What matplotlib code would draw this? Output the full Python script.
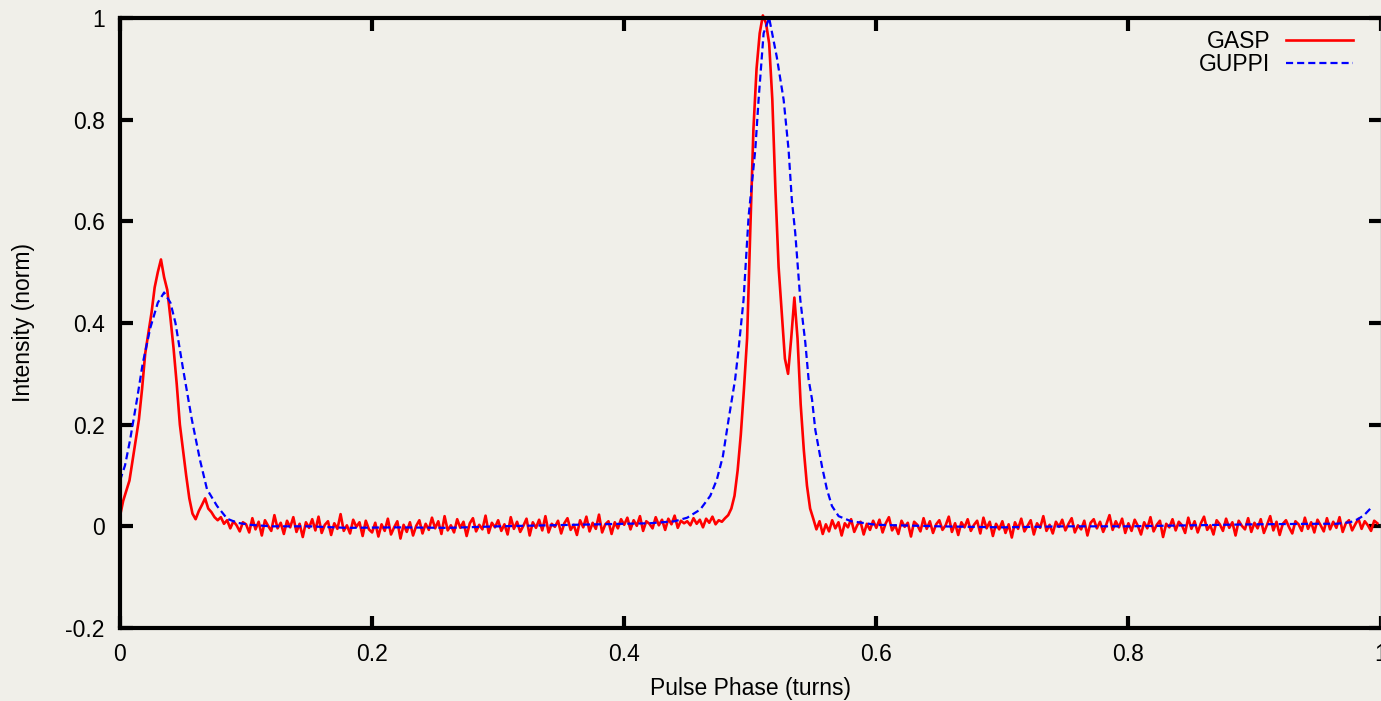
import numpy as np
import matplotlib.pyplot as plt
from matplotlib.ticker import FormatStrFormatter

plt.rcParams['font.family'] = ['Liberation Sans', 'DejaVu Sans']

# GASP profile: 400 phase bins (step 0.0025)
gasp = [
    0.02, 0.05, 0.07, 0.09, 0.13, 0.17, 0.21, 0.27, 0.34, 0.38, 0.42, 0.47, 0.50, 0.525, 0.49, 0.465, 0.41, 0.35, 0.28, 0.20,
    0.15, 0.10, 0.055, 0.025, 0.014, 0.03, 0.042, 0.055, 0.035, 0.028, 0.018, 0.012, 0.018, 0.005, 0.012, -0.004, 0.01, 0.002, -0.01, 0.008,
    0.004, -0.012, 0.016, -0.006, 0.009, -0.018, 0.012, 0.001, -0.009, 0.022, -0.004, 0.007, -0.015, 0.011, -0.002, 0.018, -0.011, 0.005, -0.021, 0.008,
    -0.003, 0.014, -0.008, 0.019, -0.013, 0.003, 0.01, -0.017, 0.006, -0.005, 0.024, -0.009, 0.002, -0.014, 0.013, -0.001, 0.008, -0.019, 0.011, -0.006,
    -0.012, 0.007, -0.02, 0.004, -0.009, 0.015, -0.016, -0.002, 0.01, -0.024, 0.003, -0.011, 0.008, -0.018, 0.001, 0.012, -0.014, 0.005, -0.007, 0.017,
    -0.004, 0.01, -0.015, 0.02, -0.008, 0.002, -0.012, 0.014, -0.003, 0.009, -0.019, 0.006, 0.016, -0.01, 0.003, -0.006, 0.021, -0.013, 0.007, -0.002,
    0.012, -0.009, 0.004, -0.016, 0.018, -0.005, 0.009, -0.011, 0.001, 0.015, -0.018, 0.008, -0.003, 0.013, -0.008, 0.02, -0.012, 0.005, -0.001, 0.011,
    -0.014, 0.006, 0.016, -0.007, 0.003, -0.017, 0.012, -0.002, 0.019, -0.01, 0.007, -0.005, 0.023, -0.012, 0.004, 0.01, -0.015, 0.008, -0.004, 0.014,
    0.003, 0.017, -0.006, 0.012, 0.001, 0.02, -0.009, 0.01, 0.005, -0.004, 0.018, 0.002, 0.013, -0.007, 0.015, 0.004, 0.021, -0.003, 0.011, 0.006,
    0.01, 0.002, 0.016, 0.005, 0.013, -0.002, 0.015, 0.007, 0.019, 0.004, 0.012, 0.009, 0.016, 0.022, 0.035, 0.06, 0.11, 0.18, 0.27, 0.37,
    0.58, 0.78, 0.90, 0.97, 1.005, 0.99, 0.95, 0.84, 0.66, 0.51, 0.42, 0.33, 0.30, 0.37, 0.45, 0.37, 0.24, 0.15, 0.08, 0.035,
    0.015, -0.006, 0.01, -0.015, 0.004, -0.01, 0.012, -0.004, 0.008, -0.018, 0.006, -0.002, 0.014, -0.011, 0.003, 0.009, -0.016, 0.005, -0.007, 0.011,
    -0.003, 0.013, -0.012, 0.006, 0.018, -0.008, 0.002, -0.015, 0.011, -0.001, 0.007, -0.02, 0.009, 0.003, -0.01, 0.016, -0.005, 0.01, -0.013, 0.004,
    0.012, -0.007, 0.002, 0.019, -0.011, 0.006, -0.017, 0.008, -0.002, 0.014, -0.009, 0.003, 0.011, -0.014, 0.017, -0.004, 0.009, -0.019, 0.005, -0.006,
    0.01, -0.013, 0.004, -0.022, 0.008, -0.005, 0.015, -0.01, 0.001, 0.012, -0.016, 0.006, -0.003, 0.02, -0.009, 0.003, -0.014, 0.009, -0.001, 0.013,
    -0.008, 0.005, 0.016, -0.012, 0.002, -0.006, 0.011, -0.018, 0.007, 0.014, -0.004, 0.009, -0.011, 0.004, 0.022, -0.007, 0.01, -0.002, 0.015, -0.013,
    0.006, -0.009, 0.013, 0.001, -0.016, 0.008, -0.004, 0.018, -0.01, 0.003, 0.011, -0.021, 0.005, -0.002, 0.014, -0.008, 0.009, 0.002, -0.013, 0.017,
    -0.005, 0.01, -0.012, 0.006, 0.019, -0.007, 0.002, -0.016, 0.012, 0.004, -0.009, 0.015, -0.003, 0.008, -0.018, 0.011, 0.001, -0.006, 0.016, -0.011,
    0.007, -0.004, 0.014, -0.013, 0.003, 0.02, -0.008, 0.009, -0.017, 0.005, 0.012, -0.002, -0.014, 0.01, 0.004, -0.009, 0.017, -0.005, 0.008, -0.012,
    0.013, 0.002, -0.01, 0.016, -0.006, 0.009, -0.003, 0.018, -0.011, 0.006, 0.012, -0.008, 0.004, 0.015, -0.005, 0.01, 0.002, -0.009, 0.011, 0.006,
]
gasp_phase = np.arange(len(gasp)) * 0.0025

guppi_phase = [0.0, 0.004, 0.008, 0.0135, 0.018, 0.024, 0.03, 0.035, 0.04, 0.044,
               0.05, 0.057, 0.0635, 0.069, 0.077, 0.085, 0.093, 0.103, 0.12, 0.15,
               0.18, 0.22, 0.26, 0.30, 0.34, 0.38, 0.42, 0.44, 0.45, 0.4603,
               0.4683, 0.4735, 0.4783, 0.4828, 0.488, 0.4907, 0.4947, 0.4987, 0.504, 0.5066,
               0.5106, 0.515, 0.521, 0.5265, 0.5304, 0.533, 0.5357, 0.5397, 0.5437, 0.5463,
               0.549, 0.5516, 0.5569, 0.5608, 0.5648, 0.5701, 0.58, 0.60, 0.65, 0.70,
               0.75, 0.80, 0.85, 0.90, 0.95, 0.965, 0.976, 0.982, 0.987, 0.992]
guppi = [0.09, 0.12, 0.17, 0.25, 0.32, 0.39, 0.44, 0.46, 0.44, 0.40,
         0.31, 0.21, 0.13, 0.073, 0.04, 0.015, 0.007, 0.003, 0.0, 0.0,
         -0.003, -0.002, -0.003, 0.0, 0.002, 0.004, 0.006, 0.01, 0.017, 0.033,
         0.06, 0.092, 0.138, 0.21, 0.289, 0.348, 0.446, 0.61, 0.741, 0.839,
         0.97, 1.0, 0.924, 0.839, 0.741, 0.642, 0.577, 0.446, 0.361, 0.289,
         0.25, 0.19, 0.118, 0.073, 0.04, 0.02, 0.01, 0.003, 0.0, -0.002,
         0.0, 0.0, 0.002, 0.004, 0.005, 0.005, 0.008, 0.014, 0.022, 0.035]

bg = '#f0efe9'
fs = 16.5
fig = plt.figure(figsize=(13.81, 7.01), dpi=100, facecolor=bg)
ax = fig.add_axes([120 / 1381, 73 / 701, 1260.5 / 1381, 610 / 701], facecolor=bg)

ax.plot(gasp_phase, gasp, color='#ff0000', lw=1.9, label='GASP', clip_on=False)
ax.plot(guppi_phase, guppi, color='#0000ff', lw=1.6, ls=(0, (3.2, 1.8)), label='GUPPI')

ax.set_xlim(0, 1)
ax.set_ylim(-0.2, 1)
ax.set_xticks([0, 0.2, 0.4, 0.6, 0.8, 1.0])
ax.set_yticks([-0.2, 0, 0.2, 0.4, 0.6, 0.8, 1.0])
ax.xaxis.set_major_formatter(FormatStrFormatter('%g'))
ax.yaxis.set_major_formatter(FormatStrFormatter('%g'))
ax.tick_params(direction='in', length=9, width=3, labelsize=fs, color='black',
               top=True, right=True)
ax.tick_params(axis='x', pad=11)
ax.tick_params(axis='y', pad=11)
for s in ['left', 'bottom', 'top']:
    ax.spines[s].set_linewidth(3)
ax.spines['right'].set_linewidth(1)
ax.spines['right'].set_color('#888888')

ax.set_xlabel('Pulse Phase (turns)', fontsize=fs, labelpad=8)
ax.set_ylabel('Intensity (norm)', fontsize=fs, labelpad=22)

ax.legend(loc='upper right', bbox_to_anchor=(0.989, 1.003), frameon=False,
          markerfirst=False, fontsize=fs, handlelength=2.9, handletextpad=0.7,
          labelspacing=0.0, borderaxespad=0.2)

fig.savefig('out.png', dpi=100, facecolor=bg)
